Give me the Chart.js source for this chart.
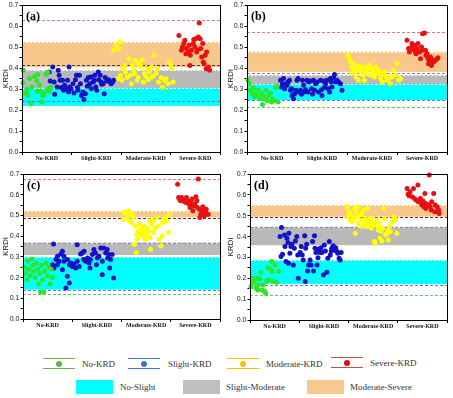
<!DOCTYPE html>
<html lang="en">
<head>
<meta charset="UTF-8">
<title>KRDI panels</title>
<style>
  body { margin: 0; background: #fff; width: 453px; height: 398px; position: relative; overflow: hidden; font-family: "Liberation Serif", "Times New Roman", serif; }
  canvas { position: absolute; }
  #pa { left: 0; top: 0; }
  #pb { left: 225px; top: 0; }
  #pc { left: 0; top: 165px; }
  #pd { left: 225px; top: 165px; }
  .sym { position: absolute; width: 32px; height: 9px; border-top: 1.5px solid; border-bottom: 1.5px solid; }
  .sym i { position: absolute; left: 13px; top: 1.5px; width: 6px; height: 6px; border-radius: 50%; }
  .box { position: absolute; width: 37px; height: 14px; }
  .txt { position: absolute; font-size: 9px; color: #333; line-height: 10px; white-space: nowrap; }
</style>
</head>
<body>
<canvas id="pa" width="225" height="165"></canvas>
<canvas id="pb" width="228" height="165"></canvas>
<canvas id="pc" width="225" height="165"></canvas>
<canvas id="pd" width="228" height="165"></canvas>

<div class="sym" style="left:43px;top:358px;border-color:#70ad47"><i style="background:#70ad47"></i></div>
<div class="txt" style="left:82px;top:359px">No-KRD</div>
<div class="sym" style="left:128px;top:358px;border-color:#4472c4"><i style="background:#4472c4"></i></div>
<div class="txt" style="left:168px;top:359px">Slight-KRD</div>
<div class="sym" style="left:227px;top:358px;border-color:#ffc000"><i style="background:#ffc000"></i></div>
<div class="txt" style="left:266px;top:359px">Moderate-KRD</div>
<div class="sym" style="left:331px;top:357px;border-color:#c0504d"><i style="background:#ee0000"></i></div>
<div class="txt" style="left:370px;top:358px">Severe-KRD</div>

<div class="box" style="left:76px;top:380px;background:#00ffff"></div>
<div class="txt" style="left:120px;top:382px">No-Slight</div>
<div class="box" style="left:183px;top:380px;background:#bfbfbf"></div>
<div class="txt" style="left:226px;top:382px">Slight-Moderate</div>
<div class="box" style="left:307px;top:380px;background:#f8c98c"></div>
<div class="txt" style="left:350px;top:382px">Moderate-Severe</div>

<script src="https://cdn.jsdelivr.net/npm/chart.js"></script>
<script>
// categories on the x axis, centred at 0.5, 1.5, 2.5, 3.5
const categories = ['No-KRD', 'Slight-KRD', 'Moderate-KRD', 'Severe-KRD'];
const yTicks = [0, 0.1, 0.2, 0.3, 0.4, 0.5, 0.6, 0.7];

// points are [x position, KRDI]
const aNo = [[0.03,0.39],[0.02,0.33],[0.1,0.30],[0.12,0.27],[0.15,0.35],[0.18,0.23],[0.25,0.36],[0.3,0.34],[0.32,0.37],[0.3,0.29],[0.38,0.29],[0.4,0.24],[0.45,0.28],[0.48,0.37],[0.52,0.38],[0.52,0.30],[0.58,0.31],[0.2,0.31],[0.42,0.27],[0.08,0.28],[0.55,0.29],[0.35,0.32]];
const aSlight = [[0.55,0.382],[0.57,0.339],[0.62,0.405],[0.65,0.334],[0.66,0.275],[0.71,0.31],[0.73,0.39],[0.75,0.366],[0.77,0.342],[0.79,0.307],[0.82,0.342],[0.84,0.294],[0.86,0.318],[0.89,0.302],[0.95,0.405],[0.92,0.342],[0.94,0.286],[0.96,0.31],[0.99,0.302],[1.03,0.326],[1.05,0.281],[1.08,0.345],[1.1,0.366],[1.12,0.307],[1.13,0.294],[1.16,0.366],[1.18,0.326],[1.2,0.27],[1.23,0.286],[1.25,0.25],[1.28,0.278],[1.3,0.342],[1.32,0.313],[1.34,0.355],[1.37,0.326],[1.39,0.358],[1.4,0.302],[1.44,0.334],[1.46,0.342],[1.47,0.366],[1.49,0.31],[1.51,0.294],[1.54,0.382],[1.55,0.345],[1.58,0.366],[1.6,0.334],[1.61,0.323],[1.64,0.326],[1.66,0.278],[1.68,0.355],[1.71,0.339],[1.75,0.345],[1.78,0.334],[1.8,0.326],[1.83,0.334],[1.85,0.342]];
const aMod = [[1.85,0.485],[1.9,0.509],[1.95,0.493],[1.99,0.525],[1.94,0.35],[1.99,0.366],[2.02,0.342],[2.03,0.397],[2.08,0.413],[2.09,0.382],[2.12,0.355],[2.16,0.445],[2.19,0.366],[2.21,0.326],[2.23,0.413],[2.26,0.39],[2.28,0.374],[2.29,0.437],[2.33,0.342],[2.35,0.355],[2.36,0.421],[2.4,0.405],[2.43,0.44],[2.45,0.334],[2.47,0.374],[2.5,0.361],[2.53,0.397],[2.55,0.345],[2.57,0.382],[2.6,0.355],[2.62,0.405],[2.65,0.361],[2.67,0.461],[2.71,0.377],[2.74,0.397],[2.76,0.334],[2.81,0.355],[2.84,0.307],[2.88,0.342],[2.91,0.35],[2.95,0.326],[2.98,0.429],[3.01,0.413],[3.03,0.397],[3.05,0.334]];
const aSev = [[3.17,0.556],[3.22,0.485],[3.24,0.501],[3.27,0.517],[3.29,0.533],[3.31,0.469],[3.32,0.493],[3.36,0.477],[3.38,0.509],[3.39,0.413],[3.4,0.461],[3.42,0.485],[3.46,0.517],[3.47,0.536],[3.49,0.501],[3.51,0.54],[3.53,0.477],[3.54,0.485],[3.56,0.548],[3.58,0.615],[3.6,0.54],[3.61,0.493],[3.63,0.453],[3.65,0.517],[3.66,0.429],[3.68,0.421],[3.7,0.461],[3.72,0.397],[3.73,0.477],[3.77,0.405],[3.79,0.39]];

const bNo = [[0.02,0.342],[0.05,0.326],[0.07,0.294],[0.1,0.278],[0.13,0.307],[0.15,0.262],[0.18,0.286],[0.2,0.27],[0.23,0.297],[0.27,0.254],[0.3,0.278],[0.31,0.227],[0.35,0.262],[0.38,0.294],[0.4,0.246],[0.43,0.27],[0.47,0.281],[0.49,0.238],[0.51,0.254],[0.55,0.246],[0.57,0.307],[0.6,0.313],[0.62,0.238]];
const bSlight = [[0.67,0.342],[0.69,0.31],[0.71,0.326],[0.73,0.35],[0.75,0.302],[0.78,0.326],[0.8,0.318],[0.82,0.334],[0.85,0.342],[0.87,0.294],[0.89,0.302],[0.9,0.27],[0.93,0.254],[0.95,0.278],[0.98,0.294],[1.0,0.342],[1.02,0.35],[1.03,0.286],[1.07,0.294],[1.09,0.275],[1.11,0.342],[1.13,0.318],[1.15,0.286],[1.17,0.297],[1.2,0.342],[1.22,0.286],[1.23,0.334],[1.27,0.339],[1.29,0.302],[1.31,0.275],[1.33,0.342],[1.35,0.294],[1.37,0.326],[1.4,0.334],[1.43,0.286],[1.47,0.342],[1.49,0.297],[1.5,0.27],[1.53,0.339],[1.55,0.307],[1.57,0.326],[1.6,0.342],[1.62,0.302],[1.65,0.286],[1.67,0.35],[1.69,0.334],[1.7,0.31],[1.73,0.355],[1.75,0.37],[1.78,0.334],[1.8,0.342],[1.83,0.334],[1.87,0.326],[1.9,0.294]];
const bMod = [[2.02,0.461],[2.05,0.445],[2.07,0.429],[2.09,0.405],[2.1,0.374],[2.13,0.421],[2.15,0.39],[2.18,0.358],[2.2,0.405],[2.22,0.386],[2.23,0.342],[2.27,0.413],[2.29,0.382],[2.31,0.397],[2.33,0.366],[2.35,0.342],[2.37,0.405],[2.4,0.382],[2.42,0.39],[2.45,0.413],[2.47,0.366],[2.5,0.397],[2.53,0.382],[2.55,0.358],[2.57,0.405],[2.6,0.374],[2.63,0.39],[2.67,0.35],[2.69,0.37],[2.71,0.334],[2.75,0.382],[2.78,0.361],[2.8,0.342],[2.83,0.35],[2.87,0.326],[2.9,0.358],[2.93,0.39],[2.97,0.366],[3.0,0.421],[3.03,0.342],[3.07,0.35]];
const bSev = [[3.2,0.533],[3.23,0.493],[3.25,0.477],[3.29,0.501],[3.3,0.517],[3.33,0.488],[3.35,0.509],[3.37,0.477],[3.38,0.469],[3.4,0.493],[3.42,0.517],[3.45,0.477],[3.47,0.445],[3.49,0.501],[3.5,0.485],[3.51,0.564],[3.55,0.568],[3.57,0.485],[3.58,0.461],[3.6,0.469],[3.62,0.445],[3.63,0.421],[3.65,0.437],[3.67,0.453],[3.69,0.413],[3.7,0.44],[3.73,0.429],[3.77,0.437],[3.8,0.445],[3.82,0.45]];

const cNo = [[0.03,0.25],[0.05,0.22],[0.08,0.19],[0.1,0.28],[0.12,0.24],[0.15,0.21],[0.18,0.29],[0.2,0.26],[0.22,0.23],[0.25,0.2],[0.27,0.27],[0.3,0.24],[0.32,0.17],[0.34,0.22],[0.36,0.13],[0.38,0.26],[0.4,0.19],[0.42,0.13],[0.44,0.23],[0.47,0.27],[0.5,0.21],[0.52,0.25],[0.55,0.17],[0.57,0.24],[0.6,0.2]];
const cSlight = [[0.62,0.362],[1.1,0.359],[0.7,0.303],[0.67,0.287],[0.6,0.262],[0.63,0.246],[0.77,0.314],[0.8,0.327],[0.83,0.303],[0.73,0.279],[0.9,0.287],[0.94,0.262],[0.97,0.27],[1.0,0.254],[1.04,0.266],[1.07,0.246],[1.1,0.279],[1.14,0.254],[1.17,0.314],[1.2,0.319],[1.24,0.327],[1.23,0.287],[1.27,0.279],[1.31,0.295],[1.34,0.27],[1.37,0.287],[1.36,0.246],[1.41,0.311],[1.44,0.335],[1.47,0.319],[1.49,0.262],[1.51,0.295],[1.54,0.303],[1.58,0.343],[1.61,0.279],[1.64,0.343],[1.68,0.319],[1.71,0.335],[1.72,0.295],[1.74,0.311],[1.78,0.287],[1.81,0.311],[1.76,0.246],[1.61,0.214],[1.84,0.198],[0.9,0.206],[0.94,0.174],[0.87,0.15],[0.8,0.238],[0.7,0.262],[0.83,0.279]];
const cMod = [[2.04,0.482],[2.05,0.514],[2.09,0.506],[2.12,0.49],[2.14,0.522],[2.16,0.474],[2.19,0.509],[2.21,0.466],[2.23,0.498],[2.24,0.49],[2.26,0.36],[2.28,0.449],[2.3,0.32],[2.31,0.409],[2.32,0.385],[2.34,0.425],[2.36,0.457],[2.38,0.409],[2.41,0.433],[2.43,0.401],[2.45,0.449],[2.46,0.417],[2.48,0.385],[2.5,0.409],[2.51,0.441],[2.55,0.425],[2.57,0.474],[2.58,0.393],[2.59,0.336],[2.61,0.457],[2.64,0.474],[2.65,0.417],[2.68,0.441],[2.72,0.49],[2.75,0.449],[2.77,0.385],[2.8,0.352],[2.82,0.401],[2.84,0.466],[2.86,0.482],[2.89,0.49],[2.92,0.474],[2.95,0.417],[2.97,0.506]];
const cSev = [[3.14,0.651],[3.16,0.587],[3.18,0.579],[3.2,0.571],[3.22,0.587],[3.24,0.574],[3.27,0.567],[3.29,0.579],[3.31,0.563],[3.32,0.587],[3.34,0.571],[3.36,0.558],[3.38,0.554],[3.39,0.538],[3.41,0.567],[3.43,0.579],[3.45,0.522],[3.46,0.546],[3.49,0.554],[3.51,0.59],[3.53,0.571],[3.54,0.538],[3.56,0.676],[3.58,0.53],[3.59,0.49],[3.61,0.506],[3.63,0.522],[3.65,0.542],[3.68,0.498],[3.7,0.514],[3.72,0.53],[3.74,0.506],[3.76,0.506]];

const dNo = [[0.02,0.16],[0.05,0.2],[0.07,0.176],[0.09,0.192],[0.12,0.152],[0.14,0.2],[0.16,0.144],[0.17,0.168],[0.2,0.197],[0.22,0.229],[0.25,0.144],[0.27,0.168],[0.29,0.139],[0.32,0.128],[0.34,0.187],[0.36,0.251],[0.39,0.192],[0.41,0.248],[0.44,0.28],[0.45,0.232],[0.47,0.184],[0.51,0.264],[0.54,0.181],[0.58,0.232]];
const dSlight = [[0.64,0.443],[0.61,0.4],[0.63,0.304],[0.66,0.315],[0.7,0.408],[0.71,0.352],[0.73,0.28],[0.75,0.392],[0.77,0.372],[0.78,0.272],[0.79,0.416],[0.81,0.32],[0.83,0.352],[0.85,0.363],[0.88,0.264],[0.9,0.344],[0.92,0.379],[0.95,0.4],[0.97,0.312],[0.98,0.2],[1.02,0.324],[1.04,0.352],[1.06,0.312],[1.08,0.288],[1.11,0.404],[1.12,0.184],[1.13,0.344],[1.15,0.363],[1.17,0.235],[1.19,0.264],[1.22,0.288],[1.24,0.264],[1.27,0.376],[1.29,0.235],[1.31,0.404],[1.32,0.344],[1.34,0.324],[1.36,0.264],[1.38,0.299],[1.4,0.34],[1.42,0.324],[1.44,0.347],[1.46,0.324],[1.49,0.216],[1.51,0.36],[1.53,0.331],[1.56,0.229],[1.58,0.296],[1.61,0.376],[1.63,0.312],[1.65,0.331],[1.66,0.344],[1.69,0.356],[1.72,0.335],[1.74,0.347],[1.76,0.331],[1.78,0.32],[1.81,0.296],[1.83,0.288],[1.85,0.324]];
const dMod = [[1.97,0.543],[1.99,0.495],[2.01,0.519],[2.03,0.479],[2.05,0.503],[2.07,0.471],[2.1,0.487],[2.12,0.535],[2.14,0.416],[2.15,0.519],[2.17,0.495],[2.19,0.463],[2.2,0.543],[2.24,0.503],[2.26,0.479],[2.27,0.511],[2.28,0.448],[2.31,0.527],[2.33,0.463],[2.34,0.487],[2.37,0.448],[2.39,0.535],[2.41,0.463],[2.42,0.479],[2.44,0.448],[2.46,0.44],[2.47,0.487],[2.51,0.463],[2.53,0.376],[2.54,0.368],[2.56,0.455],[2.58,0.479],[2.6,0.432],[2.61,0.448],[2.62,0.463],[2.64,0.392],[2.66,0.424],[2.68,0.379],[2.69,0.44],[2.71,0.535],[2.73,0.487],[2.75,0.408],[2.78,0.416],[2.8,0.432],[2.81,0.384],[2.83,0.448],[2.85,0.424],[2.88,0.471],[2.92,0.495],[2.94,0.487],[2.95,0.479],[2.98,0.416]];
const dSev = [[3.19,0.631],[3.21,0.603],[3.23,0.596],[3.25,0.615],[3.29,0.591],[3.32,0.631],[3.34,0.583],[3.37,0.575],[3.41,0.647],[3.42,0.567],[3.46,0.583],[3.48,0.559],[3.49,0.551],[3.51,0.571],[3.53,0.543],[3.55,0.607],[3.56,0.559],[3.57,0.535],[3.59,0.555],[3.63,0.551],[3.64,0.695],[3.66,0.543],[3.68,0.527],[3.69,0.567],[3.73,0.607],[3.75,0.519],[3.76,0.551],[3.8,0.543],[3.82,0.519],[3.83,0.527],[3.84,0.511]];

// threshold bands: No-Slight, Slight-Moderate, Moderate-Severe  [low, high]
const aBands = [[0.22,0.305],[0.305,0.39],[0.405,0.525]];
const bBands = [[0.248,0.324],[0.324,0.367],[0.382,0.478]];
const cBands = [[0.142,0.299],[0.309,0.369],[0.49,0.522]];
const dBands = [[0.173,0.287],[0.358,0.447],[0.495,0.551]];

// dashed reference lines: red, dark, purple, blue, green (null = not drawn)
const aLines = [0.628, 0.413, null, 0.242, null];
const bLines = [0.573, null, 0.375, 0.247, 0.216];
const cLines = [0.676, 0.487, 0.369, 0.142, 0.121];
const dLines = [0.699, 0.495, 0.447, 0.168, 0.12];

const seriesColors = ['#2be62b', '#1212c8', '#ffff00', '#e81010'];
const bandColors = ['#00ffff', '#b9b9b9', '#f8c88b'];
const lineColors = ['#e07a7a', '#5a2e2e', '#8a80d0', '#4f86d8', '#6cc86c'];

Chart.defaults.font.family = '"Liberation Sans", Arial, sans-serif';
Chart.defaults.color = '#222';

function near(v, step) {
    return Math.abs(v / step - Math.round(v / step)) < 1e-6;
}

function makePanel(id, groups, bands, lines, tag, geo) {
    const bandPlugin = {
        id: 'bands',
        beforeDatasetsDraw(chart) {
            const { ctx, chartArea: a, scales: { y } } = chart;
            ctx.save();
            bands.forEach((b, i) => {
                const y1 = y.getPixelForValue(b[1]);
                const y0 = y.getPixelForValue(b[0]);
                ctx.fillStyle = bandColors[i];
                ctx.fillRect(a.left, y1, a.right - a.left, y0 - y1);
            });
            ctx.lineWidth = 1;
            ctx.strokeStyle = 'rgba(255,255,255,0.85)';
            ctx.setLineDash([2, 2]);
            bands.forEach(b => {
                b.forEach(v => {
                    const py = Math.round(y.getPixelForValue(v)) + 0.5;
                    ctx.beginPath();
                    ctx.moveTo(a.left, py);
                    ctx.lineTo(a.right, py);
                    ctx.stroke();
                });
            });
            ctx.setLineDash([3, 2]);
            lines.forEach((v, i) => {
                if (v === null) return;
                const py = Math.round(y.getPixelForValue(v)) + 0.5;
                ctx.strokeStyle = lineColors[i];
                ctx.beginPath();
                ctx.moveTo(a.left, py);
                ctx.lineTo(a.right, py);
                ctx.stroke();
            });
            ctx.restore();
        }
    };

    const framePlugin = {
        id: 'frame',
        afterDraw(chart) {
            const { ctx, chartArea: a } = chart;
            ctx.save();
            ctx.strokeStyle = '#000';
            ctx.lineWidth = 1;
            ctx.strokeRect(Math.round(a.left) + 0.5, Math.round(a.top) + 0.5,
                Math.round(a.right - a.left), Math.round(a.bottom - a.top));
            ctx.fillStyle = '#000';
            ctx.font = 'bold 12px "Liberation Serif", serif';
            ctx.textBaseline = 'alphabetic';
            ctx.fillText(tag, a.left + 4, a.top + 15);
            ctx.restore();
        }
    };

    return new Chart(document.getElementById(id), {
        type: 'scatter',
        data: {
            datasets: groups.map((g, i) => ({
                label: categories[i],
                data: g.map(p => ({ x: p[0], y: p[1] })),
                backgroundColor: seriesColors[i],
                borderColor: seriesColors[i],
                borderWidth: 0,
                pointRadius: 2.5,
                clip: false
            }))
        },
        options: {
            responsive: false,
            animation: false,
            devicePixelRatio: 1,
            events: [],
            layout: { padding: { top: geo.top, right: geo.right, left: 0, bottom: 0 } },
            plugins: { legend: { display: false }, tooltip: { enabled: false } },
            scales: {
                x: {
                    type: 'linear',
                    min: 0,
                    max: 4,
                    afterFit: s => { s.height = geo.xh; },
                    afterBuildTicks: s => {
                        s.ticks = [0, 0.5, 1, 1.5, 2, 2.5, 3, 3.5, 4].map(v => ({ value: v }));
                    },
                    ticks: {
                        autoSkip: false,
                        maxRotation: 0,
                        padding: 0,
                        font: { family: '"Liberation Serif", serif', size: 6, weight: 'bold' },
                        color: '#111',
                        callback: v => near(v - 0.5, 1) ? categories[Math.round(v - 0.5)] : ''
                    },
                    grid: {
                        drawOnChartArea: false,
                        tickLength: 3,
                        color: c => (c.tick && near(c.tick.value, 1)) ? '#000' : 'rgba(0,0,0,0)'
                    },
                    border: { display: true, color: '#000' }
                },
                y: {
                    min: 0,
                    max: 0.7,
                    afterFit: s => { s.width = geo.yw; },
                    afterBuildTicks: s => {
                        const t = [];
                        yTicks.forEach((v, i) => {
                            t.push({ value: v });
                            if (i < yTicks.length - 1) t.push({ value: (v + yTicks[i + 1]) / 2 });
                        });
                        s.ticks = t;
                    },
                    ticks: {
                        autoSkip: false,
                        padding: 1,
                        font: { size: 7 },
                        color: '#222',
                        callback: v => near(v, 0.1) ? v.toFixed(1) : ''
                    },
                    grid: { drawOnChartArea: false, tickLength: 2.5, color: '#000' },
                    border: { display: true, color: '#000' },
                    title: { display: true, text: 'KRDI', font: { size: 8 }, padding: 1, color: '#111' }
                }
            }
        },
        plugins: [bandPlugin, framePlugin]
    });
}

makePanel('pa', [aNo, aSlight, aMod, aSev], aBands, aLines, '(a)', { yw: 22, top: 5, right: 5, xh: 13 });
makePanel('pb', [bNo, bSlight, bMod, bSev], bBands, bLines, '(b)', { yw: 22, top: 5, right: 6, xh: 13 });
makePanel('pc', [cNo, cSlight, cMod, cSev], cBands, cLines, '(c)', { yw: 23, top: 9, right: 5, xh: 11 });
makePanel('pd', [dNo, dSlight, dMod, dSev], dBands, dLines, '(d)', { yw: 25, top: 9, right: 6, xh: 10 });
</script>
</body>
</html>
